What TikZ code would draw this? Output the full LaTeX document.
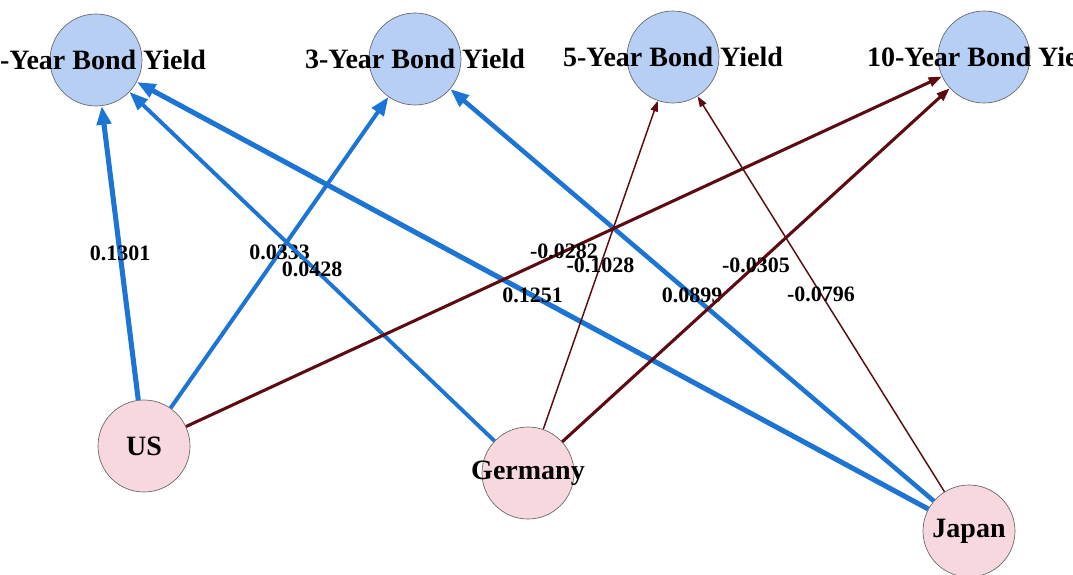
\documentclass[tikz,border=0pt]{standalone}
\usepackage{fontspec}
\setmainfont{Liberation Serif}
\usepackage{xcolor}
\usetikzlibrary{arrows.meta}

\definecolor{yieldfill}{RGB}{183,207,244}
\definecolor{countryfill}{RGB}{248,216,223}
\definecolor{edgeblue}{RGB}{28,117,212}
\definecolor{edgered}{RGB}{92,12,16}

\begin{document}
\begin{tikzpicture}[x=0.75pt,y=-0.75pt,
  yield/.style={circle,draw=gray!80!black,line width=0.5pt,fill=yieldfill,minimum size=69pt,inner sep=0pt},
  country/.style={circle,draw=gray!80!black,line width=0.5pt,fill=countryfill,minimum size=69pt,inner sep=0pt},
  lab/.style={font=\fontsize{21}{25}\selectfont\bfseries,inner sep=0pt},
  wt/.style={font=\fontsize{16.5}{19}\selectfont\bfseries,inner sep=0pt},
  posarr/.style={draw=edgeblue,-{Triangle[length=14pt,width=10.5pt]}},
  negarr/.style={draw=edgered,-{Triangle[length=10pt,width=7pt]}},
  negthin/.style={draw=edgered,line width=1.1pt,-{Triangle[length=8pt,width=5.5pt]}}]
\clip (0,0) rectangle (1073,574);
\fill[white] (0,0) rectangle (1073,574);
% bond yields
\node[yield,label={[lab]center:1-Year Bond Yield}] (y1) at (96,60) {};
\node[yield,label={[lab]center:3-Year Bond Yield}] (y3) at (415,59) {};
\node[yield,label={[lab]center:5-Year Bond Yield}] (y5) at (673,57) {};
\node[yield,label={[lab]center:10-Year Bond Yield}] (y10) at (984,57) {};
% countries
\node[country,label={[lab]center:US}] (us) at (144,446) {};
\node[country,label={[lab]center:Germany}] (de) at (528,473) {};
\node[country,label={[lab]center:Japan}] (jp) at (969,531) {};
% edges
\draw[posarr,line width=3.8pt] (us) -- node[wt] {0.1301} (y1);
\draw[posarr,line width=3pt] (us) -- node[wt] {0.0333} (y3);
\draw[posarr,line width=2.9pt] (de) -- node[wt,yshift=-2pt] {0.0428} (y1);
\draw[posarr,line width=3.8pt] (jp) -- node[wt] {0.1251} (y1);
\draw[posarr,line width=3.4pt] (jp) -- node[wt] {0.0899} (y3);
\draw[negarr,line width=2.3pt] (us) -- node[wt] {-0.0282} (y10);
\draw[negthin] (de) -- node[wt] {-0.1028} (y5);
\draw[negarr,line width=2.3pt] (de) -- node[wt] {-0.0305} (y10);
\draw[negthin] (jp) -- node[wt] {-0.0796} (y5);
\end{tikzpicture}
\end{document}
